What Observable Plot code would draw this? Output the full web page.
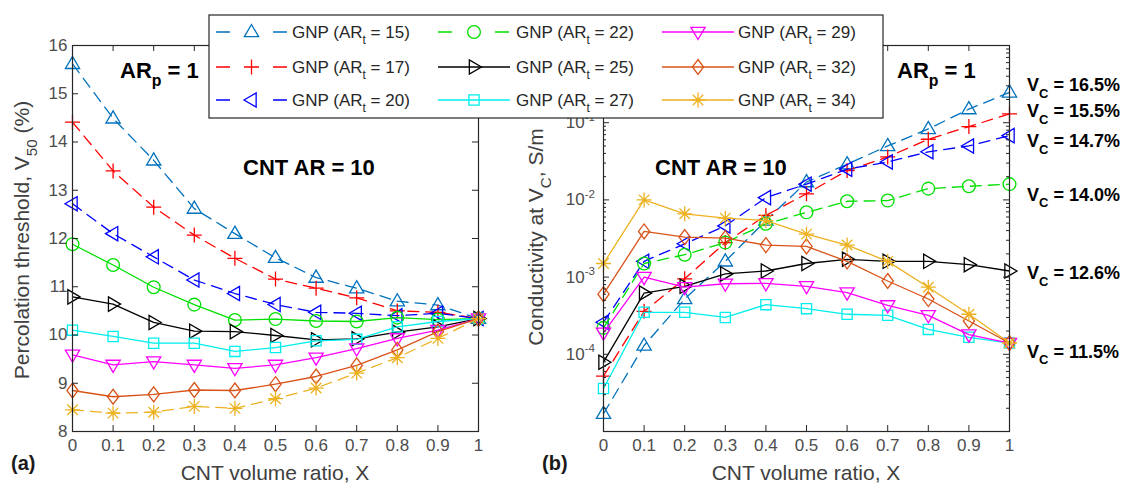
<!DOCTYPE html>
<html><head><meta charset="utf-8">
<script src="https://cdn.jsdelivr.net/npm/d3@7"></script>
<script src="https://cdn.jsdelivr.net/npm/@observablehq/plot@0.6"></script>
<style>
body{margin:0;background:#fff;}
#root{position:relative;width:1143px;height:487px;overflow:hidden;background:#fff;}
</style></head><body><div id="root"></div>
<script>
// ---------------- DATA ----------------
const xRatio = [0, 0.1, 0.2, 0.3, 0.4, 0.5, 0.6, 0.7, 0.8, 0.9, 1];
const arT = [15, 17, 20, 22, 25, 27, 29, 32, 34];

// Panel (a): percolation threshold V50 (%)
const v50_AR15 = [15.62, 14.49, 13.62, 12.62, 12.10, 11.60, 11.19, 10.97, 10.70, 10.62, 10.34];
const v50_AR17 = [14.41, 13.40, 12.65, 12.07, 11.59, 11.16, 10.97, 10.77, 10.50, 10.47, 10.34];
const v50_AR20 = [12.72, 12.10, 11.62, 11.14, 10.86, 10.63, 10.47, 10.45, 10.40, 10.45, 10.34];
const v50_AR22 = [11.88, 11.45, 10.99, 10.63, 10.31, 10.33, 10.29, 10.28, 10.36, 10.32, 10.34];
const v50_AR25 = [10.79, 10.64, 10.26, 10.08, 10.07, 9.99, 9.90, 9.92, 10.06, 10.17, 10.34];
const v50_AR27 = [10.10, 9.97, 9.83, 9.83, 9.66, 9.74, 9.88, 9.91, 10.17, 10.28, 10.34];
const v50_AR29 = [9.59, 9.38, 9.45, 9.38, 9.31, 9.38, 9.53, 9.72, 9.93, 10.10, 10.34];
const v50_AR32 = [8.85, 8.72, 8.77, 8.86, 8.85, 8.98, 9.14, 9.37, 9.69, 10.07, 10.34];
const v50_AR34 = [8.45, 8.38, 8.40, 8.52, 8.48, 8.68, 8.90, 9.21, 9.53, 9.93, 10.34];

// Panel (b): conductivity at Vc (S/m)
const sig_AR15 = [1.7e-5, 1.3e-4, 5.2e-4, 1.6e-3, 5.4e-3, 1.7e-2, 2.9e-2, 5.0e-2, 8.3e-2, 0.15, 0.247];
const sig_AR17 = [5.2e-5, 3.6e-4, 9.5e-4, 2.8e-3, 6.3e-3, 1.2e-2, 2.4e-2, 3.6e-2, 6.1e-2, 8.9e-2, 0.13];
const sig_AR20 = [2.6e-4, 1.6e-3, 2.7e-3, 4.6e-3, 1.07e-2, 1.6e-2, 2.5e-2, 3.1e-2, 4.2e-2, 5.0e-2, 6.8e-2];
const sig_AR22 = [2.2e-4, 1.5e-3, 1.95e-3, 2.8e-3, 4.9e-3, 6.9e-3, 9.6e-3, 9.8e-3, 1.4e-2, 1.5e-2, 1.6e-2];
const sig_AR25 = [7.9e-5, 6.2e-4, 7.6e-4, 1.1e-3, 1.2e-3, 1.5e-3, 1.7e-3, 1.6e-3, 1.6e-3, 1.45e-3, 1.2e-3];
const sig_AR27 = [3.6e-5, 3.5e-4, 3.5e-4, 3.0e-4, 4.4e-4, 3.9e-4, 3.3e-4, 3.2e-4, 2.1e-4, 1.66e-4, 1.4e-4];
const sig_AR29 = [1.9e-4, 1.0e-3, 7.4e-4, 8.2e-4, 8.3e-4, 7.6e-4, 6.3e-4, 4.3e-4, 3.2e-4, 1.8e-4, 1.4e-4];
const sig_AR32 = [6.0e-4, 3.9e-3, 3.3e-3, 3.2e-3, 2.6e-3, 2.5e-3, 1.6e-3, 8.9e-4, 5.2e-4, 2.7e-4, 1.4e-4];
const sig_AR34 = [1.5e-3, 1.0e-2, 6.6e-3, 5.8e-3, 5.4e-3, 3.6e-3, 2.6e-3, 1.6e-3, 7.4e-4, 3.3e-4, 1.4e-4];

const yTicksA = [8, 9, 10, 11, 12, 13, 14, 15, 16];
const yTicksB = [1e-4, 1e-3, 1e-2, 1e-1];
const yTickExpB = ["-4", "-3", "-2", "-1"];
const vcLabels = ["16.5%", "15.5%", "14.7%", "14.0%", "12.6%", "11.5%"];

// ---------------- STYLE ----------------
const FONT = "'Liberation Sans', Arial, Helvetica, sans-serif";
const AXIS = "#262626", TICKTXT = "#4d4d4d", LABELTXT = "#404040";
const colors = ["#0072BD", "#FF0000", "#0000FF", "#00E000", "#000000", "#00EEEE", "#FF00FF", "#D95319", "#EDB120"];
const dashedA = [true, true, true, false, false, false, false, false, true];
const dashedB = [true, true, true, true, false, false, false, false, false];
const DASH = "11,7";
const R = 7.5;

function sym(fn) { return {draw(ctx, size) { fn(ctx, Math.sqrt(size / Math.PI)); }}; }
const triUp = sym((c, r) => { c.moveTo(0, -r); c.lineTo(0.95 * r, 0.62 * r); c.lineTo(-0.95 * r, 0.62 * r); c.closePath(); });
const triDown = sym((c, r) => { c.moveTo(0, r); c.lineTo(0.95 * r, -0.62 * r); c.lineTo(-0.95 * r, -0.62 * r); c.closePath(); });
const triLeft = sym((c, r) => { c.moveTo(-r, 0); c.lineTo(0.62 * r, -0.95 * r); c.lineTo(0.62 * r, 0.95 * r); c.closePath(); });
const triRight = sym((c, r) => { c.moveTo(r, 0); c.lineTo(-0.62 * r, -0.95 * r); c.lineTo(-0.62 * r, 0.95 * r); c.closePath(); });
const plusS = sym((c, r) => { c.moveTo(-r, 0); c.lineTo(r, 0); c.moveTo(0, -r); c.lineTo(0, r); });
const circS = sym((c, r) => { const q = 0.85 * r; c.moveTo(q, 0); c.arc(0, 0, q, 0, 2 * Math.PI); c.closePath(); });
const squareS = sym((c, r) => { const q = 0.68 * r; c.moveTo(-q, -q); c.lineTo(q, -q); c.lineTo(q, q); c.lineTo(-q, q); c.closePath(); });
const diamondS = sym((c, r) => { c.moveTo(0, -r); c.lineTo(0.75 * r, 0); c.lineTo(0, r); c.lineTo(-0.75 * r, 0); c.closePath(); });
const starS = sym((c, r) => { const d = 0.7 * r; c.moveTo(-r, 0); c.lineTo(r, 0); c.moveTo(0, -r); c.lineTo(0, r); c.moveTo(-d, -d); c.lineTo(d, d); c.moveTo(-d, d); c.lineTo(d, -d); });
const symbols = [triUp, plusS, triLeft, circS, triRight, squareS, triDown, diamondS, starS];

const seriesA = [v50_AR15, v50_AR17, v50_AR20, v50_AR22, v50_AR25, v50_AR27, v50_AR29, v50_AR32, v50_AR34];
const seriesB = [sig_AR15, sig_AR17, sig_AR20, sig_AR22, sig_AR25, sig_AR27, sig_AR29, sig_AR32, sig_AR34];

function seriesMarks(list, dashed) {
  const marks = [];
  list.forEach((vals, i) => {
    const data = xRatio.map((x, j) => ({x, y: vals[j]}));
    const lo = {x: "x", y: "y", stroke: colors[i], strokeWidth: 1.3};
    if (dashed[i]) lo.strokeDasharray = DASH;
    marks.push(Plot.line(data, lo));
    marks.push(Plot.dot(data, {x: "x", y: "y", symbol: symbols[i], r: R, stroke: colors[i], fill: "none", strokeWidth: 1.3}));
  });
  return marks;
}

const W_IN = 406, H_IN = 386, TL = 6, TLm = 3;
const fmtX = d => String(+d.toFixed(1));

function frameTicks(xt, ytMajor, ytMinor) {
  const m = [
    Plot.tickX(xt, {x: d => d, insetTop: H_IN - TL, stroke: AXIS}),
    Plot.tickX(xt, {x: d => d, insetBottom: H_IN - TL, stroke: AXIS}),
    Plot.tickY(ytMajor, {y: d => d, insetRight: W_IN - TL, stroke: AXIS}),
    Plot.tickY(ytMajor, {y: d => d, insetLeft: W_IN - TL, stroke: AXIS})
  ];
  if (ytMinor) {
    m.push(Plot.tickY(ytMinor, {y: d => d, insetRight: W_IN - TLm, stroke: AXIS}));
    m.push(Plot.tickY(ytMinor, {y: d => d, insetLeft: W_IN - TLm, stroke: AXIS}));
  }
  m.push(Plot.frame({stroke: AXIS, strokeWidth: 1.2}));
  return m;
}

const root = document.getElementById("root");

const plotA = Plot.plot({
  width: 500, height: 487, marginLeft: 72, marginRight: 22, marginTop: 45, marginBottom: 56,
  x: {domain: [0, 1], axis: null}, y: {domain: [8, 16], axis: null},
  style: {fontFamily: FONT, background: "transparent", overflow: "visible"},
  marks: [
    ...seriesMarks(seriesA, dashedA),
    ...frameTicks(xRatio, yTicksA),
    Plot.axisX(xRatio, {tickSize: 0, tickPadding: 7, fontSize: 17, color: TICKTXT, tickFormat: fmtX, label: null}),
    Plot.axisY(yTicksA, {tickSize: 0, tickPadding: 5, fontSize: 17, color: TICKTXT, label: null})
  ]
});
plotA.style.position = "absolute"; plotA.style.left = "0px"; plotA.style.top = "0px";
root.appendChild(plotA);

const majorsB = [1e-5, 1e-4, 1e-3, 1e-2, 1e-1, 1];
const minorsB = [];
for (let e = -5; e < 0; e++) for (let k = 2; k <= 9; k++) minorsB.push(k * Math.pow(10, e));

const plotB = Plot.plot({
  width: 643, height: 487, marginLeft: 103, marginRight: 134, marginTop: 45, marginBottom: 56,
  x: {domain: [0, 1], axis: null}, y: {type: "log", domain: [1e-5, 1], axis: null},
  style: {fontFamily: FONT, background: "transparent", overflow: "visible"},
  marks: [
    ...seriesMarks(seriesB, dashedB),
    ...frameTicks(xRatio, majorsB, minorsB),
    Plot.axisX(xRatio, {tickSize: 0, tickPadding: 7, fontSize: 17, color: TICKTXT, tickFormat: fmtX, label: null})
  ]
});
plotB.style.position = "absolute"; plotB.style.left = "500px"; plotB.style.top = "0px";
root.appendChild(plotB);

const syB = plotB.scale("y");
const yB = syB.apply ? (v => syB.apply(v)) : d3.scaleLog(syB.domain, syB.range);

// ---------------- TEXT OVERLAY ----------------
const ov = d3.create("svg").attr("width", 1143).attr("height", 487)
  .style("position", "absolute").style("left", "0px").style("top", "0px")
  .style("font-family", FONT);

function addText(x, y, parts, o = {}) {
  const size = o.size || 17;
  const t = ov.append("text")
    .attr("transform", `translate(${x},${y}) rotate(${o.rotate || 0})`)
    .attr("text-anchor", o.anchor || "start")
    .attr("font-size", size).attr("font-weight", o.weight || "normal")
    .attr("fill", o.fill || "#000");
  let shift = 0;
  parts.forEach(p => {
    const [str, kind] = Array.isArray(p) ? p : [p, null];
    const ts = t.append("tspan").text(str);
    let target = 0;
    if (kind === "sub") { target = size * 0.38; ts.attr("font-size", size * 0.72); }
    if (kind === "sup") { target = -size * 0.45; ts.attr("font-size", size * 0.68); }
    ts.attr("dy", target - shift);
    shift = target;
  });
  return t;
}

// axis labels
addText(29, 240, ["Percolation threshold, V", ["50", "sub"], " (%)"], {size: 21, rotate: -90, anchor: "middle", fill: LABELTXT});
addText(275, 480, ["CNT volume ratio, X"], {size: 21, anchor: "middle", fill: LABELTXT});
addText(543, 237, ["Conductivity at V", ["C", "sub"], ", S/m"], {size: 21, rotate: -90, anchor: "middle", fill: LABELTXT});
addText(806, 480, ["CNT volume ratio, X"], {size: 21, anchor: "middle", fill: LABELTXT});
addText(11, 470, ["(a)"], {size: 20, weight: "bold", fill: "#1a1a1a"});
addText(542, 470, ["(b)"], {size: 20, weight: "bold", fill: "#1a1a1a"});

// panel b y tick labels
yTicksB.forEach((v, i) => {
  addText(595, yB(v) + 6, ["10", [yTickExpB[i], "sup"]], {size: 17, anchor: "end", fill: TICKTXT});
});

// annotations
addText(120, 78, ["AR", ["p", "sub"], " = 1"], {size: 22, weight: "bold"});
addText(243, 175, ["CNT AR = 10"], {size: 22, weight: "bold"});
addText(897, 78, ["AR", ["p", "sub"], " = 1"], {size: 22, weight: "bold"});
addText(655, 175, ["CNT AR = 10"], {size: 22, weight: "bold"});

// Vc labels (anchored near series end values)
const vcAnchor = [sig_AR15, sig_AR17, sig_AR20, sig_AR22, sig_AR25, sig_AR27].map(a => a[a.length - 1]);
const vcShift = [-1, 4, 12, 17, 9, 15];
vcLabels.forEach((s, i) => {
  addText(1027, yB(vcAnchor[i]) + vcShift[i], ["V", ["C", "sub"], " = " + s], {size: 18, weight: "bold"});
});
root.appendChild(ov.node());

// ---------------- LEGEND ----------------
const lg = d3.create("svg").attr("width", 678).attr("height", 106)
  .style("position", "absolute").style("left", "208px").style("top", "14px")
  .style("font-family", FONT);
lg.append("rect").attr("x", 1).attr("y", 1).attr("width", 674).attr("height", 103)
  .attr("fill", "white").attr("stroke", AXIS).attr("stroke-width", 1.2);
const colGeom = [[8, 79, 84], [230, 302, 308], [454, 526, 530]];
const rowY = [18, 53, 86];
arT.forEach((a, i) => {
  const c = Math.floor(i / 3), r = i % 3;
  const [x0, x1, tx] = colGeom[c];
  const y = rowY[r];
  const ln = lg.append("line").attr("x1", x0).attr("x2", x1).attr("y1", y).attr("y2", y)
    .attr("stroke", colors[i]).attr("stroke-width", 1.3);
  if (dashedB[i]) ln.attr("stroke-dasharray", "14,43,14");
  lg.append("path").attr("transform", `translate(${(x0 + x1) / 2},${y})`)
    .attr("d", d3.symbol(symbols[i], R * R * Math.PI)())
    .attr("fill", "none").attr("stroke", colors[i]).attr("stroke-width", 1.3);
  const t = lg.append("text").attr("x", tx).attr("y", y + 6).attr("font-size", 17).attr("fill", "#262626");
  t.append("tspan").text("GNP (AR");
  t.append("tspan").text("t").attr("font-size", 12).attr("dy", 6);
  t.append("tspan").text(` = ${a})`).attr("dy", -6);
});
root.appendChild(lg.node());
</script></body></html>
